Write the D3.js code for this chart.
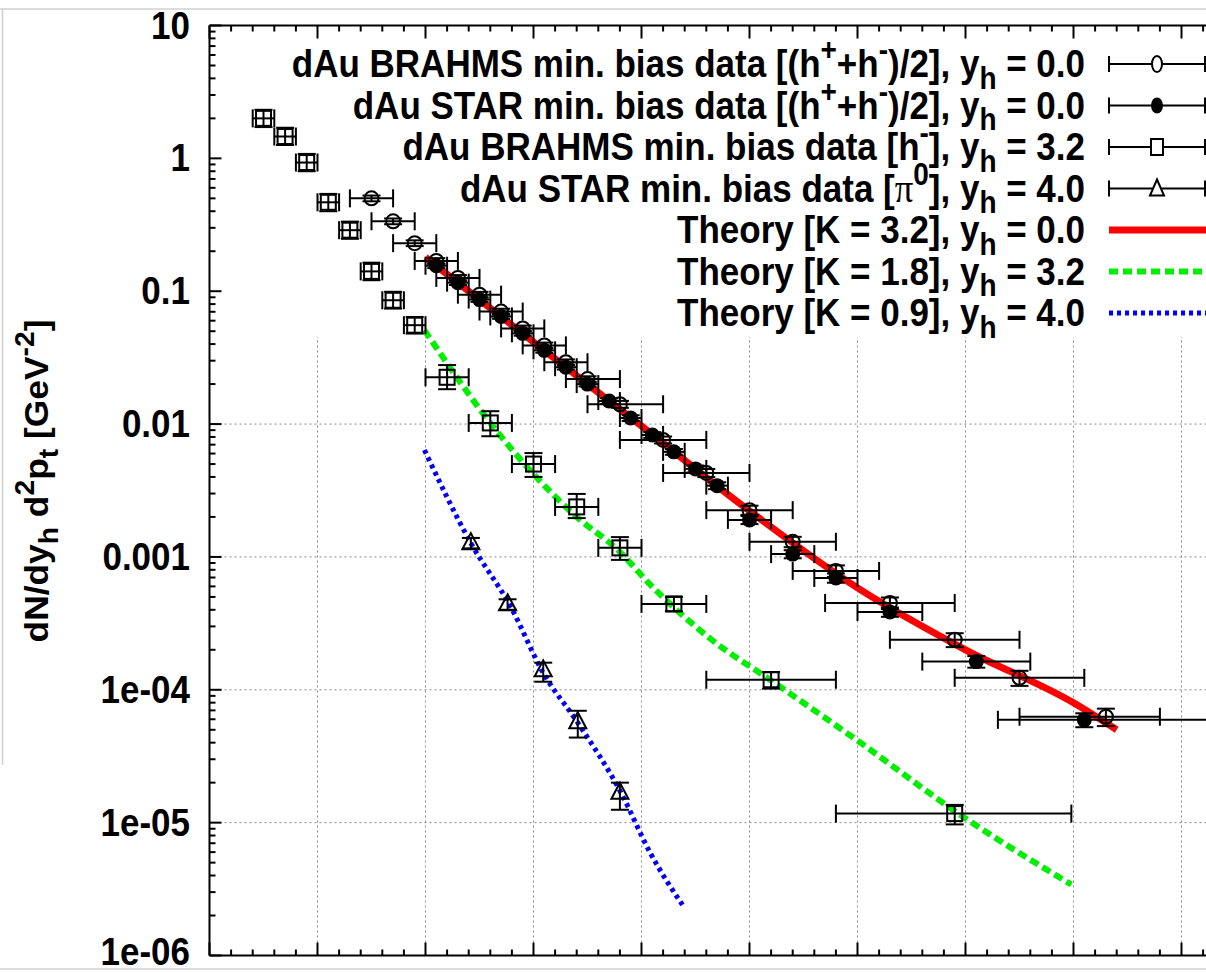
<!DOCTYPE html>
<html><head><meta charset="utf-8">
<script src="https://cdn.jsdelivr.net/npm/d3@7"></script>
<style>
body{margin:0;background:#fff}
svg{display:block}
text{font-family:"Liberation Sans",Arial,Helvetica,sans-serif;font-weight:bold;fill:#000}
</style>
</head><body>
<svg id="chart" width="1206" height="972"></svg>
<script>
// ---------- DATA ----------
const yTickValues = [10, 1, 0.1, 0.01, 0.001, 1e-4, 1e-5, 1e-6];
const yTickLabels = ["10", "1", "0.1", "0.01", "0.001", "1e-04", "1e-05", "1e-06"];
const xMajorTicks = [0,1,2,3,4,5,6,7,8,9,10];

// BRAHMS (h+ + h-)/2, y_h = 0.0  (open circles)
const brahms0_x    = [1.5,1.7,1.9,2.1,2.3,2.5,2.7,2.9,3.1,3.3,3.5,3.8,4.2,4.6,5.0,5.4,5.8,6.3,6.9,7.5,8.3];
const brahms0_xlo  = [1.3,1.5,1.7,1.9,2.1,2.3,2.5,2.7,2.9,3.1,3.3,3.5,3.8,4.2,4.6,5.0,5.4,5.7,6.3,6.9,7.5];
const brahms0_xhi  = [1.7,1.9,2.1,2.3,2.5,2.7,2.9,3.1,3.3,3.5,3.8,4.2,4.6,5.0,5.4,5.8,6.2,6.9,7.5,8.1,8.8];
const brahms0_y    = [0.50,0.336,0.23,0.169,0.126,0.0942,0.0703,0.0525,0.0391,0.0292,0.0218,0.0141,0.0076,0.00429,0.00225,0.0013,7.85e-4,4.5e-4,2.38e-4,1.23e-4,6.27e-5];
const brahms0_yerr = [0.05,0.05,0.05,0.05,0.05,0.05,0.05,0.05,0.05,0.05,0.05,0.06,0.06,0.07,0.08,0.09,0.10,0.10,0.12,0.13,0.15];

// STAR (h+ + h-)/2, y_h = 0.0  (filled circles)
const star0_x    = [2.1,2.3,2.5,2.7,2.9,3.1,3.3,3.5,3.7,3.9,4.1,4.3,4.5,4.7,5.0,5.4,5.8,6.3,7.1,8.1];
const star0_xlo  = [2.0,2.2,2.4,2.6,2.8,3.0,3.2,3.4,3.6,3.8,4.0,4.2,4.4,4.6,4.8,5.2,5.6,6.0,6.6,7.3];
const star0_xhi  = [2.2,2.4,2.6,2.8,3.0,3.2,3.4,3.6,3.8,4.0,4.2,4.4,4.6,4.8,5.2,5.6,6.0,6.6,7.6,10.0];
const star0_y    = [0.1556,0.116,0.0865,0.0646,0.0482,0.0359,0.0268,0.0200,0.0149,0.0111,0.00828,0.00618,0.0046,0.00344,0.0019,0.00105,6.95e-4,3.85e-4,1.63e-4,5.94e-5];
const star0_yerr = [0.04,0.04,0.04,0.04,0.04,0.04,0.04,0.04,0.05,0.05,0.05,0.05,0.06,0.06,0.07,0.07,0.08,0.08,0.10,0.12];

// BRAHMS h-, y_h = 3.2  (open squares)
const brahms32_x   = [0.5,0.7,0.9,1.1,1.3,1.5,1.7,1.9,2.2,2.6,3.0,3.4,3.8,4.3,5.2,6.9];
const brahms32_xlo = [0.4,0.6,0.8,1.0,1.2,1.4,1.6,1.8,2.0,2.4,2.8,3.2,3.6,4.0,4.6,5.8];
const brahms32_xhi = [0.6,0.8,1.0,1.2,1.4,1.6,1.8,2.0,2.4,2.8,3.2,3.6,4.0,4.6,5.8,7.98];
const brahms32_y   = [2.0,1.46,0.93,0.467,0.288,0.141,0.0855,0.0555,0.0225,0.0102,0.0050,0.00238,0.00117,4.43e-4,1.19e-4,1.17e-5];
const brahms32_ylo = [1.72,1.26,0.80,0.40,0.248,0.121,0.074,0.048,0.0183,0.0081,0.0040,0.00196,0.00095,3.9e-4,1.02e-4,0.97e-5];
const brahms32_yhi = [2.32,1.70,1.08,0.54,0.334,0.164,0.099,0.064,0.0278,0.0125,0.00605,0.00298,0.00141,5.0e-4,1.36e-4,1.36e-5];

// STAR pi0, y_h = 4.0  (open triangles)
const star40_x   = [2.42,2.76,3.09,3.41,3.80];
const star40_y   = [0.00127,4.4e-4,1.4e-4,5.7e-5,1.68e-5];
const star40_ylo = [0.00116,4.0e-4,1.15e-4,4.37e-5,1.25e-5];
const star40_yhi = [0.00139,4.8e-4,1.6e-4,6.95e-5,2.0e-5];

// Theory curves
const theoryK32_x = [2.0,3.0,4.0,5.0,6.0,7.0,8.0,8.4];
const theoryK32_y = [0.180,0.0414,0.00966,0.00222,5.85e-4,2.0e-4,7.98e-5,5.0e-5];
const theoryK18_x = [1.99,2.6,2.99,3.40,3.78,4.08,4.65,5.19,5.99,6.99,7.98];
const theoryK18_y = [0.051,0.0102,0.00429,0.0020,0.00113,6.2e-4,2.38e-4,1.19e-4,4.2e-5,1.09e-5,3.42e-6];
const theoryK09_x = [1.99,2.42,2.79,3.09,3.41,3.81,4.08,4.39];
const theoryK09_y = [0.00638,0.00127,4.2e-4,1.34e-4,5.65e-5,1.68e-5,5.94e-6,2.33e-6];

// Legend entries
const legendLabels = [
  [["dAu BRAHMS min. bias data [(h",""],["+","sup"],["+h",""],["-","sup"],[")/2], y",""],["h","sub"],[" = 0.0",""]],
  [["dAu STAR min. bias data [(h",""],["+","sup"],["+h",""],["-","sup"],[")/2], y",""],["h","sub"],[" = 0.0",""]],
  [["dAu BRAHMS min. bias data [h",""],["-","sup"],["], y",""],["h","sub"],[" = 3.2",""]],
  [["dAu STAR min. bias data [",""],["π","sym"],["0","sup"],["], y",""],["h","sub"],[" = 4.0",""]],
  [["Theory [K = 3.2], y",""],["h","sub"],[" = 0.0",""]],
  [["Theory [K = 1.8], y",""],["h","sub"],[" = 3.2",""]],
  [["Theory [K = 0.9], y",""],["h","sub"],[" = 4.0",""]]
];
const yLabelParts = [["dN/dy",""],["h","sub"],[" d",""],["2","sup"],["p",""],["t","sub"],[" [GeV",""],["-2","sup"],["]",""]];

// ---------- LAYOUT ----------
const svg = d3.select("#chart");
const L = 209.5, T = 25.5, B = 955.5;
const x = d3.scaleLinear().domain([0, 10]).range([L, L + 1080]);
const y = d3.scaleLog().domain([1e-6, 10]).range([B, T]);
const FS = 35, SY = 1.13;

function rich(sel, parts, fs) {
  let shift = 0;
  parts.forEach(([t, k]) => {
    const ts = sel.append("tspan").text(t);
    let target = 0;
    if (k === "sup") { ts.attr("font-size", fs * 0.8); target = -0.42 * fs; }
    else if (k === "sub") { ts.attr("font-size", fs * 0.8); target = 0.3 * fs; }
    else if (k === "sym") { ts.attr("font-family", "'Liberation Serif','DejaVu Serif',serif").attr("font-weight", "normal").attr("font-size", fs * 1.05); }
    ts.attr("dy", target - shift);
    shift = target;
  });
}

// faint scan border lines
svg.append("line").attr("x1",0).attr("x2",1206).attr("y1",9).attr("y2",9).attr("stroke","#d0d0d0").attr("stroke-width",1.5);
svg.append("line").attr("x1",2.5).attr("x2",2.5).attr("y1",9).attr("y2",765).attr("stroke","#d0d0d0").attr("stroke-width",1.5);
svg.append("line").attr("x1",0).attr("x2",1206).attr("y1",969).attr("y2",969).attr("stroke","#d0d0d0").attr("stroke-width",1.5);

// grid
const grid = svg.append("g").attr("stroke", "#888").attr("stroke-width", 1).attr("stroke-dasharray", "2,3");
xMajorTicks.filter(v => v > 0).forEach(v => {
  grid.append("line").attr("x1", x(v)).attr("x2", x(v)).attr("y1", T).attr("y2", B);
});
yTickValues.filter(v => v > 1e-6 && v < 10).forEach(v => {
  grid.append("line").attr("x1", L).attr("x2", 1206).attr("y1", y(v)).attr("y2", y(v));
});
// opaque key area
svg.append("rect").attr("x", L + 1).attr("y", T + 1).attr("width", 1206 - L).attr("height", 336 - T).attr("fill", "#fff");

// axes frame
const ax = svg.append("g").attr("stroke", "#000").attr("stroke-width", 2);
ax.append("line").attr("x1", L).attr("x2", L).attr("y1", T).attr("y2", B);
ax.append("line").attr("x1", L).attr("x2", 1206).attr("y1", T).attr("y2", T);
ax.append("line").attr("x1", L).attr("x2", 1206).attr("y1", B).attr("y2", B);
for (let e = -6; e <= 1; e++) {
  const base = Math.pow(10, e);
  ax.append("line").attr("x1", L).attr("x2", L + 12).attr("y1", y(base)).attr("y2", y(base));
  if (e < 1) for (let m = 2; m <= 9; m++) {
    const v = m * base;
    ax.append("line").attr("x1", L).attr("x2", L + 6).attr("y1", y(v)).attr("y2", y(v));
  }
}
d3.range(0, 10.01, 0.2).forEach(v => {
  const major = Math.abs(v - Math.round(v)) < 1e-6;
  const len = major ? 13 : 6;
  const px = x(v);
  if (px > 1206) return;
  ax.append("line").attr("x1", px).attr("x2", px).attr("y1", B).attr("y2", B - len);
  ax.append("line").attr("x1", px).attr("x2", px).attr("y1", T).attr("y2", T + len);
});
// y tick labels
const tl = svg.append("g");
yTickValues.forEach((d, i) => {
  const py = Math.min(y(d) + 13, 965);
  tl.append("g").attr("transform", `translate(190,${py}) scale(1,${SY})`)
    .append("text").attr("text-anchor", "end").attr("font-size", 35).text(yTickLabels[i]);
});

// y axis title
const yt = svg.append("g").attr("transform", "translate(48,481) rotate(-90) scale(1.04,1)")
  .append("text").attr("font-size", 34).attr("text-anchor", "middle");
rich(yt, yLabelParts, 34);

// theory curves
const lineGen = d3.line().x(d => x(d[0])).y(d => y(d[1])).curve(d3.curveMonotoneX);
const zip = (a, b) => a.map((v, i) => [v, b[i]]);
svg.append("path").attr("d", lineGen(zip(theoryK18_x, theoryK18_y))).attr("fill", "none")
  .attr("stroke", "#00ee00").attr("stroke-width", 6).attr("stroke-dasharray", "9,5");
svg.append("path").attr("d", lineGen(zip(theoryK09_x, theoryK09_y))).attr("fill", "none")
  .attr("stroke", "#0000ff").attr("stroke-width", 5).attr("stroke-dasharray", "4,4");

const CAP = 9;
function errbars(g, px, py, xl, xh, yl, yh) {
  const s = g.append("g").attr("stroke", "#000").attr("stroke-width", 2).attr("fill", "none");
  if (xl !== null) {
    s.append("line").attr("x1", xl).attr("x2", Math.min(xh, 1300)).attr("y1", py).attr("y2", py);
    s.append("line").attr("x1", xl).attr("x2", xl).attr("y1", py - CAP).attr("y2", py + CAP);
    s.append("line").attr("x1", xh).attr("x2", xh).attr("y1", py - CAP).attr("y2", py + CAP);
  }
  s.append("line").attr("x1", px).attr("x2", px).attr("y1", yl).attr("y2", yh);
  s.append("line").attr("x1", px - CAP).attr("x2", px + CAP).attr("y1", yl).attr("y2", yl);
  s.append("line").attr("x1", px - CAP).attr("x2", px + CAP).attr("y1", yh).attr("y2", yh);
}
function marker(g, type, px, py) {
  if (type === "oc") g.append("circle").attr("cx", px).attr("cy", py).attr("r", 7).attr("fill", "none").attr("stroke", "#000").attr("stroke-width", 2);
  if (type === "fc") g.append("circle").attr("cx", px).attr("cy", py).attr("r", 7.5).attr("fill", "#000");
  if (type === "sq") g.append("rect").attr("x", px - 7.5).attr("y", py - 7.5).attr("width", 15).attr("height", 15).attr("fill", "none").attr("stroke", "#000").attr("stroke-width", 2);
  if (type === "tr") g.append("path").attr("d", `M${px},${py - 10}L${px + 8.5},${py + 6}L${px - 8.5},${py + 6}Z`).attr("fill", "none").attr("stroke", "#000").attr("stroke-width", 2);
}

const dataG = svg.append("g");
brahms32_x.forEach((v, i) => {
  const px = x(v), py = y(brahms32_y[i]);
  errbars(dataG, px, py, x(brahms32_xlo[i]), x(brahms32_xhi[i]), y(brahms32_ylo[i]), y(brahms32_yhi[i]));
  marker(dataG, "sq", px, py);
});
star40_x.forEach((v, i) => {
  const px = x(v), py = y(star40_y[i]);
  errbars(dataG, px, py, null, null, y(star40_ylo[i]), y(star40_yhi[i]));
  marker(dataG, "tr", px, py);
});
svg.append("path").attr("d", lineGen(zip(theoryK32_x, theoryK32_y))).attr("fill", "none")
  .attr("stroke", "#ff0000").attr("stroke-width", 7);
const dataG2 = svg.append("g");
star0_x.forEach((v, i) => {
  const px = x(v), py = y(star0_y[i]);
  errbars(dataG2, px, py, x(star0_xlo[i]), x(star0_xhi[i]), y(star0_y[i] * (1 - star0_yerr[i])), y(star0_y[i] * (1 + star0_yerr[i])));
  marker(dataG2, "fc", px, py);
});
brahms0_x.forEach((v, i) => {
  const px = x(v), py = y(brahms0_y[i]);
  errbars(dataG2, px, py, x(brahms0_xlo[i]), x(brahms0_xhi[i]), y(brahms0_y[i] * (1 - brahms0_yerr[i])), y(brahms0_y[i] * (1 + brahms0_yerr[i])));
  marker(dataG2, "oc", px, py);
});

// legend
const lg = svg.append("g");
const sampleTypes = ["oc", "fc", "sq", "tr", "red", "green", "blue"];
legendLabels.forEach((parts, i) => {
  const cy = 64 + i * 41.5;
  const t = lg.append("g").attr("transform", `translate(1085,${cy + 13}) scale(1,${SY})`)
    .append("text").attr("text-anchor", "end").attr("font-size", FS);
  rich(t, parts, FS);
  const st = sampleTypes[i];
  if (i < 4) {
    const s = lg.append("g").attr("stroke", "#000").attr("stroke-width", 2);
    s.append("line").attr("x1", 1109).attr("x2", 1205).attr("y1", cy).attr("y2", cy);
    s.append("line").attr("x1", 1109).attr("x2", 1109).attr("y1", cy - 8).attr("y2", cy + 8);
    s.append("line").attr("x1", 1205).attr("x2", 1205).attr("y1", cy - 8).attr("y2", cy + 8);
    if (st === "oc") lg.append("ellipse").attr("cx", 1157).attr("cy", cy).attr("rx", 5).attr("ry", 8).attr("fill", "#fff").attr("stroke", "#000").attr("stroke-width", 2);
    if (st === "fc") lg.append("ellipse").attr("cx", 1157).attr("cy", cy).attr("rx", 6).attr("ry", 8).attr("fill", "#000");
    if (st === "sq") lg.append("rect").attr("x", 1151).attr("y", cy - 8).attr("width", 12).attr("height", 16).attr("fill", "#fff").attr("stroke", "#000").attr("stroke-width", 2);
    if (st === "tr") lg.append("path").attr("d", `M1157,${cy - 9}L1164,${cy + 7}L1150,${cy + 7}Z`).attr("fill", "#fff").attr("stroke", "#000").attr("stroke-width", 2);
  } else {
    const col = { red: "#ff0000", green: "#00ee00", blue: "#0000ff" }[st];
    const sw = { red: 7, green: 6, blue: 5 }[st];
    const da = { red: null, green: "9,5", blue: "4,4" }[st];
    const l = lg.append("line").attr("x1", 1109).attr("x2", 1206).attr("y1", cy).attr("y2", cy)
      .attr("stroke", col).attr("stroke-width", sw);
    if (da) l.attr("stroke-dasharray", da);
  }
});
</script>
</body></html>
